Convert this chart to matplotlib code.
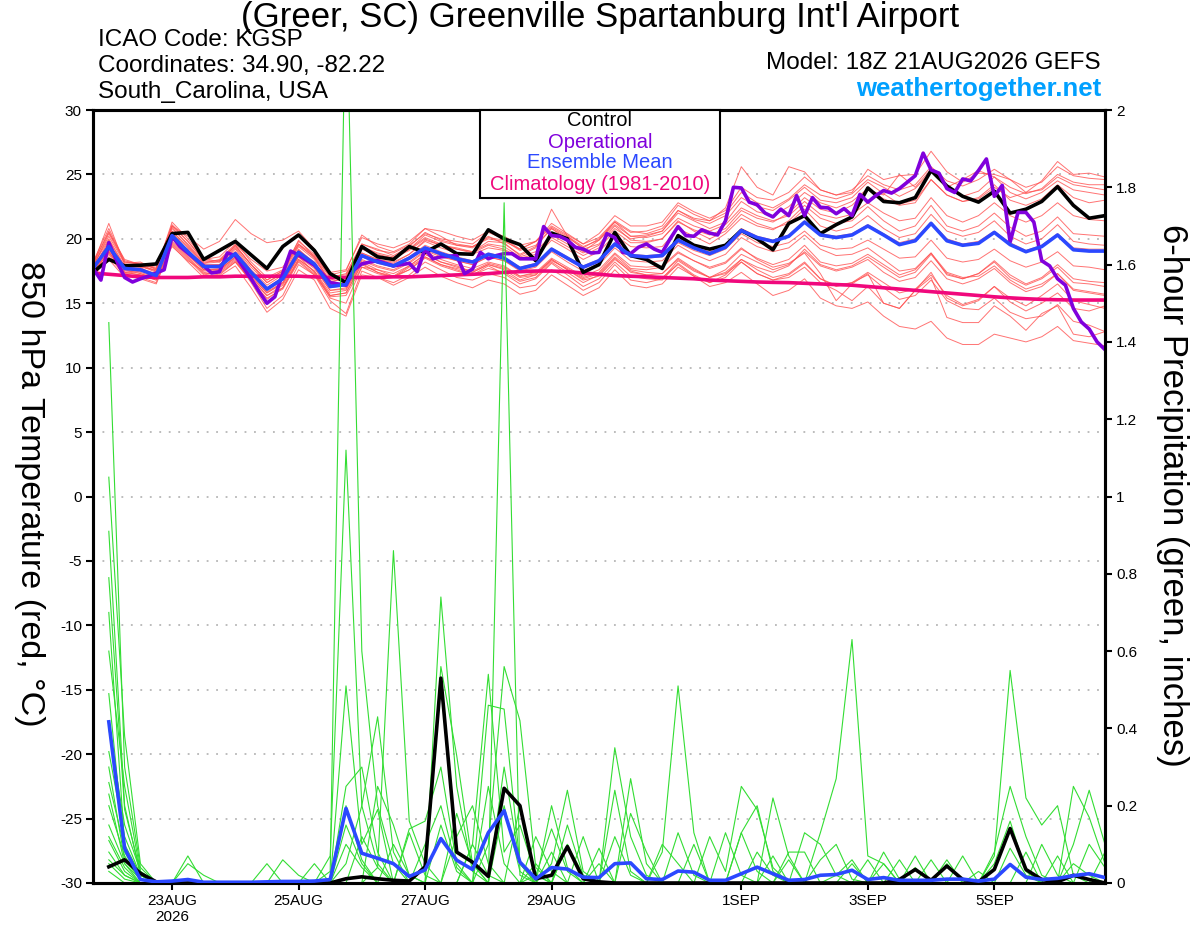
import matplotlib
matplotlib.use('Agg')
import matplotlib.pyplot as plt
from matplotlib.patches import Rectangle
import pandas as pd

plt.rcParams['font.family'] = ['Liberation Sans', 'DejaVu Sans']

# ---------------- data ----------------
run_time = pd.Timestamp('2026-08-21 18:00')
step_h = 6          # ensemble output interval (hours)
oper_step_h = 3     # operational output interval (hours)

tick_dates = ['2026-08-23', '2026-08-25', '2026-08-27', '2026-08-29',
              '2026-09-01', '2026-09-03', '2026-09-05']
tick_labels = ['23AUG\n2026', '25AUG', '27AUG', '29AUG', '1SEP', '3SEP', '5SEP']

control_temp = [17.4, 18.4, 17.9, 17.95, 18.05, 20.4, 20.5, 18.4, 19.1, 19.8,
                18.75, 17.7, 19.4, 20.3, 19.1, 17.3, 16.6, 19.4, 18.6, 18.4,
                19.4, 18.95, 19.6, 18.85, 18.8, 20.7, 20.0, 19.55, 18.3, 20.45,
                20.0, 17.4, 18.0, 20.5, 18.7, 18.4, 17.7, 20.25, 19.5, 19.2,
                19.5, 20.65, 20.0, 19.15, 21.2, 21.8, 20.4, 21.1, 21.7, 23.95,
                22.9, 22.8, 23.2, 25.3, 24.1, 23.3, 22.85, 23.7, 22.0, 22.3,
                22.9, 24.05, 22.6, 21.6, 21.8]

mean_temp = [17.7, 19.4, 17.7, 17.6, 17.15, 20.25, 19.0, 17.85, 17.85, 18.85,
             17.4, 16.1, 16.9, 18.95, 18.05, 16.3, 16.45, 18.7, 18.2, 17.9,
             18.5, 19.3, 18.85, 18.45, 18.2, 18.8, 18.5, 17.7, 18.0, 19.2,
             18.5, 17.8, 18.3, 19.6, 18.7, 18.6, 18.7, 19.9, 19.3, 18.85,
             19.35, 20.65, 20.1, 19.8, 20.2, 21.3, 20.3, 20.1, 20.3, 21.0,
             20.3, 19.55, 19.85, 21.2, 19.85, 19.5, 19.65, 20.5, 19.55, 19.0,
             19.4, 20.3, 19.15, 19.05, 19.05]

clim_temp = [17.35, 17.25, 17.15, 17.05, 17.0, 17.0, 17.0, 17.05, 17.05, 17.1,
             17.1, 17.1, 17.1, 17.1, 17.05, 17.0, 17.0, 17.0, 17.0, 17.05,
             17.05, 17.1, 17.15, 17.2, 17.25, 17.3, 17.4, 17.45, 17.5, 17.5,
             17.45, 17.35, 17.25, 17.15, 17.1, 17.05, 17.0, 16.95, 16.9, 16.8,
             16.75, 16.7, 16.65, 16.62, 16.6, 16.55, 16.5, 16.45, 16.4, 16.3,
             16.2, 16.1, 16.0, 15.9, 15.8, 15.7, 15.6, 15.5, 15.42, 15.35,
             15.3, 15.27, 15.25, 15.25, 15.25]

oper_temp = [17.7, 16.8, 19.7, 18.3, 17.0, 16.65, 16.9, 17.1, 17.35, 17.6,
             20.2, 19.4, 18.9, 18.4, 17.9, 17.35, 17.45, 18.9, 18.7, 17.8,
             16.9, 15.9, 15.0, 15.5, 17.3, 19.05, 18.75, 18.35, 17.95, 17.3,
             16.6, 16.5, 16.4, 17.6, 18.05, 18.2, 18.3, 18.1, 17.9, 18.0,
             18.1, 17.45, 19.2, 18.45, 18.6, 18.65, 18.7, 17.3, 17.65, 18.95,
             18.45, 18.7, 18.85, 18.85, 18.45, 18.45, 18.45, 20.95, 20.25, 20.2,
             19.9, 19.35, 19.2, 18.9, 18.95, 20.4, 20.1, 18.95, 18.85, 19.35,
             19.6, 19.2, 18.95, 20.0, 20.95, 20.25, 20.2, 20.7, 20.45, 20.3,
             21.4, 24.0, 23.95, 22.85, 22.65, 22.0, 21.7, 22.3, 21.8, 23.35,
             21.8, 23.2, 22.45, 22.4, 21.95, 22.35, 21.8, 23.45, 22.85, 23.35,
             23.75, 23.55, 23.9, 24.4, 24.9, 26.65, 25.35, 25.1, 23.9, 23.6,
             24.65, 24.5, 25.3, 26.2, 23.3, 24.15, 19.75, 22.05, 22.05, 21.3,
             18.3, 17.9, 16.9, 16.4, 14.6, 13.55, 13.0, 12.0, 11.4]

temp_members = [
    [18.2, 20.8, 18.3, 18.0, 17.8, 21.0, 19.8, 18.4, 18.6, 19.8, 18.2, 17.0, 17.6, 19.8, 18.8, 17.2, 17.5, 20.3, 19.4, 19.0, 19.6, 20.8, 20.2, 19.5, 19.3, 20.2, 19.6, 18.8, 19.4, 20.8, 19.9, 19.0, 19.9, 21.3, 20.2, 20.3, 20.6, 22.0, 21.4, 20.8, 21.3, 22.9, 22.1, 21.8, 22.5, 23.6, 22.8, 22.4, 22.9, 23.9, 23.1, 22.6, 22.8, 24.6, 23.4, 22.9, 23.2, 24.2, 23.0, 22.6, 23.1, 24.2, 23.2, 22.8, 23.0],
    [17.3, 19.0, 17.4, 17.2, 16.8, 19.8, 18.6, 17.4, 17.2, 18.2, 16.8, 15.3, 16.2, 18.4, 17.5, 15.6, 15.8, 18.0, 17.4, 17.0, 17.8, 18.6, 18.0, 17.6, 17.2, 17.9, 17.3, 16.5, 16.9, 18.1, 17.2, 16.3, 16.9, 18.2, 17.1, 16.9, 16.8, 18.1, 17.2, 16.6, 17.0, 18.2, 17.3, 16.8, 17.2, 18.1, 16.9, 16.4, 16.6, 17.2, 16.2, 15.3, 15.6, 16.8, 15.2, 14.6, 14.5, 15.4, 14.3, 13.8, 14.0, 14.9, 13.6, 13.3, 12.8],
    [17.5, 19.6, 17.9, 17.8, 17.0, 20.0, 19.2, 17.6, 17.6, 18.6, 17.0, 15.8, 16.5, 18.6, 17.4, 15.4, 15.0, 17.8, 17.6, 17.1, 17.9, 18.8, 18.2, 17.9, 17.4, 18.0, 17.6, 16.8, 17.2, 18.4, 17.6, 16.8, 17.1, 18.4, 17.5, 17.2, 17.0, 18.0, 17.1, 16.3, 16.6, 17.4, 16.5, 15.6, 16.0, 16.9, 15.4, 14.8, 14.6, 15.1, 14.0, 13.2, 13.0, 13.6, 12.3, 11.8, 11.8, 12.6, 12.3, 12.0, 12.4, 13.2, 12.1, 11.9, 11.7],
    [17.9, 20.2, 18.1, 18.2, 17.6, 20.8, 19.6, 18.2, 18.3, 19.4, 18.0, 16.8, 17.5, 19.5, 18.6, 17.0, 17.3, 19.6, 19.1, 18.9, 19.5, 20.4, 20.0, 19.8, 19.6, 20.5, 20.0, 19.2, 19.8, 21.2, 20.4, 19.6, 20.4, 21.8, 21.0, 21.0, 21.3, 22.8, 22.1, 21.6, 22.2, 24.0, 23.2, 23.0, 23.6, 24.8, 23.8, 23.4, 23.8, 24.9, 24.2, 23.8, 24.2, 25.6, 24.5, 24.1, 24.6, 25.4, 24.6, 24.0, 24.4, 25.6, 24.9, 24.7, 24.6],
    [18.0, 21.2, 18.0, 17.8, 17.6, 21.3, 20.0, 18.5, 18.2, 19.5, 18.0, 16.6, 17.4, 19.9, 18.6, 16.6, 17.0, 19.4, 18.8, 18.5, 19.2, 20.1, 19.6, 19.2, 19.0, 19.6, 19.4, 18.6, 19.0, 20.3, 19.6, 18.9, 19.5, 20.8, 20.0, 20.2, 20.6, 22.2, 21.6, 21.4, 22.4, 25.6, 24.0, 23.4, 25.6, 25.2, 23.8, 23.4, 23.6, 25.4, 24.6, 24.9, 25.0, 26.8, 25.2, 24.4, 25.1, 25.0, 24.6, 23.6, 24.5, 26.0, 25.0, 25.1, 24.8],
    [17.0, 18.8, 17.1, 17.0, 16.6, 19.6, 18.4, 17.2, 17.4, 18.3, 16.9, 15.6, 16.2, 18.3, 17.3, 15.6, 15.8, 18.1, 17.4, 17.1, 17.6, 18.6, 18.0, 17.7, 17.4, 18.0, 17.7, 17.0, 17.2, 18.3, 17.7, 17.0, 17.4, 18.8, 17.7, 17.6, 17.8, 18.9, 18.3, 17.7, 18.1, 19.2, 18.5, 18.0, 18.4, 19.5, 18.2, 17.9, 18.1, 18.8, 18.0, 17.2, 17.6, 18.9, 17.2, 16.9, 17.3, 18.2, 17.0, 16.4, 16.9, 17.8, 16.6, 16.5, 16.3],
    [17.6, 19.9, 17.8, 17.9, 17.4, 20.6, 19.3, 18.0, 18.0, 19.2, 17.6, 16.4, 17.2, 19.2, 18.1, 16.4, 16.6, 18.9, 18.4, 18.2, 18.8, 19.8, 19.3, 18.9, 18.8, 19.3, 19.1, 18.4, 18.6, 19.9, 19.2, 18.4, 19.0, 20.3, 19.4, 19.3, 19.4, 20.8, 20.2, 19.6, 20.4, 21.6, 21.0, 20.7, 21.4, 22.6, 21.6, 21.2, 21.4, 22.5, 21.4, 20.6, 21.0, 22.6, 21.0, 20.6, 21.0, 22.0, 20.9, 20.2, 20.6, 21.7, 20.4, 20.3, 20.2],
    [17.2, 18.4, 17.0, 17.3, 16.9, 19.4, 18.3, 17.5, 17.5, 18.4, 16.6, 14.6, 15.6, 18.0, 17.2, 15.2, 14.2, 17.5, 17.0, 16.6, 17.2, 18.2, 17.6, 17.0, 16.8, 17.3, 17.0, 16.2, 16.4, 17.6, 16.9, 16.0, 16.6, 18.0, 16.8, 16.6, 16.9, 18.3, 17.5, 17.0, 17.6, 18.8, 18.2, 17.6, 18.0, 19.0, 17.9, 17.5, 17.8, 18.4, 17.4, 16.7, 17.0, 18.3, 16.9, 16.5, 16.9, 17.7, 16.6, 15.9, 16.3, 17.3, 16.0, 15.8, 15.6],
    [17.4, 19.2, 17.5, 17.4, 17.0, 20.1, 19.0, 17.8, 17.7, 18.8, 17.2, 15.9, 16.6, 18.7, 17.8, 16.0, 16.1, 18.3, 17.8, 17.5, 18.1, 19.0, 18.4, 18.0, 17.7, 18.2, 17.9, 17.1, 17.3, 18.4, 17.6, 16.9, 17.3, 18.6, 17.6, 17.4, 17.3, 18.4, 17.6, 17.0, 17.3, 18.2, 17.3, 16.8, 17.0, 17.8, 16.6, 16.0, 15.2, 16.3, 15.0, 14.6, 16.0, 17.0, 13.9, 13.5, 13.5, 14.8, 14.0, 12.9, 14.2, 14.8, 12.6, 12.4, 12.8],
    [18.1, 20.5, 18.4, 18.0, 17.5, 20.9, 19.5, 18.1, 18.4, 19.6, 18.4, 17.5, 17.8, 19.6, 18.7, 17.1, 17.2, 19.6, 19.2, 18.7, 19.4, 20.5, 19.9, 19.6, 19.4, 20.0, 19.8, 19.2, 19.8, 21.0, 20.3, 19.6, 20.1, 21.4, 20.6, 20.4, 20.8, 22.2, 21.5, 21.2, 21.8, 23.2, 22.5, 22.2, 23.0, 24.0, 23.0, 22.8, 23.2, 24.4, 23.5, 22.7, 23.0, 24.6, 23.4, 22.9, 23.1, 24.0, 23.2, 23.6, 23.8, 24.8, 24.2, 24.0, 23.8],
    [17.8, 20.4, 18.2, 18.0, 17.7, 21.0, 20.2, 19.2, 19.8, 21.5, 20.4, 19.7, 19.9, 20.6, 19.2, 17.4, 17.6, 20.1, 19.6, 19.3, 19.8, 20.8, 20.6, 20.2, 19.9, 20.6, 20.2, 19.5, 19.8, 20.9, 20.2, 19.4, 19.9, 21.1, 20.2, 20.1, 20.4, 21.6, 21.0, 20.6, 21.1, 22.4, 21.8, 21.4, 21.8, 22.9, 21.9, 21.6, 21.9, 22.8, 22.0, 21.4, 21.6, 23.2, 21.8, 21.3, 21.8, 22.8, 21.8, 21.3, 21.8, 22.8, 21.8, 21.5, 21.4],
    [17.1, 18.6, 17.2, 16.9, 16.5, 19.5, 18.2, 17.0, 17.1, 17.9, 16.2, 14.3, 15.3, 17.6, 16.8, 14.6, 14.0, 17.2, 17.0, 16.4, 17.0, 17.8, 17.1, 16.6, 16.2, 16.8, 16.5, 15.7, 16.0, 17.2, 16.4, 15.6, 16.2, 17.6, 16.4, 16.2, 16.5, 17.8, 17.1, 16.6, 17.2, 18.4, 17.8, 17.4, 17.9, 19.2, 18.0, 17.6, 17.9, 18.6, 17.8, 17.0, 17.4, 18.8, 17.3, 16.9, 17.3, 18.3, 17.2, 16.5, 17.0, 18.0, 16.9, 16.7, 16.6],
    [17.7, 19.7, 17.6, 17.5, 17.3, 20.5, 19.1, 17.9, 17.8, 19.0, 17.5, 16.2, 17.0, 19.1, 18.2, 16.4, 16.6, 18.9, 18.4, 18.1, 18.8, 19.9, 19.5, 19.3, 19.0, 19.8, 19.7, 18.7, 19.3, 22.3, 20.2, 19.2, 19.6, 21.0, 19.9, 19.8, 20.0, 21.4, 20.6, 20.0, 20.6, 21.9, 21.2, 20.8, 21.2, 22.3, 21.0, 20.6, 20.9, 21.8, 20.8, 20.1, 20.4, 21.9, 20.6, 20.2, 20.5, 21.4, 20.2, 19.6, 20.0, 21.1, 19.8, 19.6, 19.5],
    [17.5, 19.1, 17.6, 17.3, 16.9, 20.0, 18.8, 17.6, 17.6, 18.6, 17.1, 15.8, 16.6, 18.6, 17.7, 16.0, 16.2, 18.4, 17.9, 17.6, 18.2, 19.1, 18.6, 18.3, 18.0, 18.6, 18.3, 17.5, 17.8, 19.0, 18.2, 17.5, 18.0, 19.3, 18.3, 18.2, 18.3, 19.5, 18.8, 18.3, 18.8, 20.1, 19.4, 19.0, 19.3, 20.3, 19.2, 18.7, 18.8, 19.3, 18.4, 17.5, 17.7, 18.9, 17.4, 17.0, 17.1, 17.9, 16.8, 16.1, 16.5, 17.3, 16.1, 15.9, 15.7],
    [17.8, 19.5, 17.8, 17.7, 17.3, 20.4, 19.1, 17.9, 18.0, 19.0, 17.5, 16.2, 17.0, 19.1, 18.1, 16.4, 16.6, 18.8, 18.3, 18.0, 18.6, 19.5, 19.0, 18.6, 18.3, 18.9, 18.6, 17.8, 18.1, 19.3, 18.6, 17.9, 18.4, 19.7, 18.8, 18.7, 18.8, 20.0, 19.4, 19.0, 19.5, 20.8, 20.2, 19.9, 20.3, 21.4, 20.4, 20.2, 20.4, 21.1, 20.4, 19.7, 20.0, 21.3, 20.0, 19.6, 19.8, 20.6, 19.7, 19.1, 19.5, 20.4, 19.3, 19.2, 19.2],
    [17.3, 19.0, 17.3, 17.5, 17.1, 20.0, 18.7, 17.6, 17.6, 18.5, 16.9, 15.6, 16.4, 18.4, 17.5, 15.8, 16.0, 18.2, 17.6, 17.3, 17.9, 18.8, 18.2, 17.8, 17.5, 18.1, 17.8, 17.1, 17.4, 18.5, 17.8, 17.1, 17.6, 18.9, 17.9, 17.8, 17.9, 19.0, 18.3, 17.8, 18.2, 19.3, 18.4, 17.8, 18.1, 18.9, 17.3, 15.2, 16.5, 17.3, 15.0, 14.6, 16.0, 17.4, 15.4, 14.8, 15.2, 16.3, 15.4, 14.8, 15.6, 16.5, 15.2, 14.9, 14.6],
    [17.9, 20.0, 17.9, 17.9, 17.5, 20.6, 19.4, 18.1, 18.2, 19.3, 17.8, 16.6, 17.3, 19.4, 18.4, 16.7, 16.9, 19.2, 18.7, 18.5, 19.1, 20.0, 19.5, 19.2, 18.9, 19.5, 19.2, 18.5, 18.8, 20.1, 19.4, 18.7, 19.3, 20.6, 19.7, 19.7, 20.0, 21.3, 20.7, 20.3, 20.8, 22.2, 21.6, 21.3, 22.0, 23.2, 22.3, 22.0, 22.6, 23.8, 23.4, 25.0, 24.0, 25.4, 23.9, 23.3, 23.7, 24.8, 23.6, 23.1, 23.6, 24.5, 23.8, 23.6, 23.4],
    [17.6, 19.3, 17.7, 17.6, 17.2, 20.2, 19.0, 17.8, 17.8, 18.8, 17.3, 16.0, 16.8, 18.9, 18.0, 16.2, 16.4, 18.6, 18.1, 17.8, 18.4, 19.2, 18.7, 18.3, 18.0, 18.6, 18.3, 17.6, 17.9, 19.1, 18.4, 17.7, 18.2, 19.5, 18.6, 18.5, 18.6, 19.7, 19.1, 18.7, 19.2, 20.4, 19.7, 19.4, 19.7, 20.6, 19.5, 19.2, 19.3, 19.9, 19.2, 18.5, 18.6, 19.9, 18.5, 18.2, 18.4, 19.2, 18.3, 17.8, 18.2, 19.0, 17.9, 17.8, 17.6],
    [18.0, 20.6, 18.2, 18.1, 17.7, 21.1, 19.8, 18.3, 18.3, 19.5, 18.0, 16.8, 17.5, 19.6, 18.5, 16.8, 17.1, 19.4, 18.9, 18.6, 19.2, 20.3, 19.8, 19.5, 19.4, 20.1, 19.9, 19.1, 19.5, 20.8, 20.1, 19.3, 20.0, 21.3, 20.5, 20.6, 21.0, 22.6, 21.9, 21.4, 22.0, 23.6, 22.8, 22.4, 23.1, 24.2, 23.4, 23.1, 23.5, 24.6, 24.0, 23.3, 23.9, 25.2, 24.0, 24.6, 25.3, 24.8, 24.0, 23.5, 23.9, 25.0, 24.4, 24.2, 24.2],
    [17.4, 18.9, 17.4, 17.2, 16.8, 19.7, 18.5, 17.3, 17.3, 18.2, 16.7, 15.4, 16.1, 18.2, 17.2, 15.5, 15.6, 17.8, 17.3, 17.0, 17.6, 18.5, 17.9, 17.5, 17.2, 17.7, 17.4, 16.7, 17.0, 18.2, 17.4, 16.6, 17.2, 18.5, 17.4, 17.2, 17.3, 18.5, 17.7, 17.0, 17.4, 18.4, 17.6, 17.0, 17.3, 18.2, 16.9, 16.3, 16.6, 17.4, 16.6, 15.8, 16.1, 17.2, 15.6, 14.9, 15.3, 16.3, 15.1, 14.4, 15.0, 15.8, 14.6, 14.4, 14.8],
]

control_precip = [0.042, 0.06, 0.025, 0.003, 0, 0, 0, 0, 0, 0,
                  0, 0, 0, 0, 0, 0.011, 0.016, 0.011, 0.007, 0.005,
                  0.042, 0.53, 0.08, 0.054, 0.017, 0.245, 0.2, 0.011, 0.02, 0.094,
                  0.011, 0.003, 0, 0, 0, 0, 0, 0, 0, 0,
                  0, 0, 0, 0, 0, 0, 0, 0, 0, 0,
                  0.009, 0.035, 0.007, 0.044, 0.009, 0.003, 0.035, 0.141, 0.035, 0.009,
                  0.003, 0.02, 0.009, 0]

mean_precip = [0.417, 0.09, 0.009, 0.003, 0.005, 0.009, 0.002, 0.002, 0.002, 0.002,
               0.003, 0.004, 0.004, 0.005, 0.009, 0.193, 0.077, 0.064, 0.05, 0.017,
               0.034, 0.115, 0.059, 0.035, 0.13, 0.187, 0.054, 0.011, 0.04, 0.036,
               0.015, 0.014, 0.05, 0.052, 0.011, 0.009, 0.031, 0.028, 0.007, 0.007,
               0.024, 0.041, 0.024, 0.007, 0.009, 0.02, 0.022, 0.033, 0.009, 0.014,
               0.007, 0.007, 0.007, 0.01, 0.01, 0.005, 0.01, 0.048, 0.015, 0.009,
               0.012, 0.019, 0.024, 0.014]

precip_members = [
    [1.45,0.30,0.04,0,0,0,0,0, 0,0,0,0,0,0,0.03,2.35, 0.60,0.20,0.05,0,0,0,0,0, 0,0,0,0.05,0,0,0,0, 0,0,0,0,0,0.10,0,0, 0,0,0,0,0,0.13,0.27,0.63, 0.07,0.05,0,0,0,0,0,0, 0.07,0.55,0.22,0.15,0.20,0.02,0,0],
    [1.05,0.38,0.05,0,0,0,0,0, 0,0,0,0,0,0,0.07,1.12, 0.20,0.05,0,0,0,0,0,0.10, 0.02,0,0,0,0,0,0.12,0, 0,0,0,0,0,0,0,0, 0,0,0.07,0,0,0,0,0, 0,0,0,0,0,0,0,0.03, 0,0,0,0,0,0,0.10,0.04],
    [0.91,0.20,0.02,0,0,0.07,0,0, 0,0,0,0,0,0,0,0.51, 0.10,0.19,0,0,0,0,0,0, 0.25,0.05,0,0,0.20,0.04,0,0, 0,0,0,0,0,0,0,0.13, 0.02,0,0,0,0,0,0,0, 0,0,0,0,0,0.06,0,0, 0,0,0,0,0,0,0,0],
    [0.79,0.19,0.03,0,0,0,0,0, 0,0,0,0,0,0,0,0.25, 0.30,0.08,0,0,0,0,0.18,0.05, 0,0,0,0,0,0.15,0.02,0, 0,0,0,0,0,0,0,0, 0.13,0.03,0,0,0,0,0,0.05, 0,0,0,0,0,0,0,0, 0.08,0.25,0.12,0.02,0,0,0,0],
    [0.70,0.10,0.02,0,0,0,0,0, 0,0,0.05,0,0,0,0,0.15, 0.05,0,0.10,0.02,0,0,0,0, 0,0.20,0.03,0,0,0,0,0.09, 0,0,0,0,0,0,0,0, 0,0,0,0,0,0,0,0, 0.06,0,0,0,0,0,0,0, 0,0,0,0,0,0.10,0.24,0.10],
    [0.49,0.08,0.01,0,0,0,0,0, 0,0,0,0,0,0,0,0.10, 0.04,0,0,0.13,0.02,0,0,0, 0,0.30,0.05,0,0,0,0,0, 0.35,0.12,0.02,0,0,0,0,0, 0,0,0,0,0,0,0,0, 0,0.08,0.01,0,0,0,0,0, 0,0.09,0.02,0,0,0,0,0],
    [0.34,0.12,0.02,0,0,0.05,0.02,0, 0,0,0,0,0,0,0,0.20, 0.06,0,0,0,0,0,0,0, 0,0,0,0.12,0.03,0,0,0, 0,0.27,0.05,0,0,0,0,0, 0,0,0,0,0,0,0,0, 0,0,0,0.04,0,0,0,0, 0,0,0,0,0,0,0,0],
    [0.30,0.06,0.01,0,0,0,0,0, 0,0,0,0,0,0,0,0.05, 0.20,0.43,0.08,0,0,0,0,0, 0,0,0,0.02,0.14,0.03,0,0, 0,0,0,0,0,0,0,0, 0,0.08,0.02,0,0,0,0,0, 0,0,0,0,0,0,0,0, 0,0,0,0,0,0,0,0],
    [0.23,0.05,0,0,0,0,0,0, 0,0,0,0.06,0.02,0,0,0, 0.12,0.04,0,0,0,0.15,0.03,0, 0,0,0,0,0,0.10,0.02,0, 0,0,0,0,0,0,0,0, 0,0,0,0.06,0,0,0,0, 0,0,0,0,0.06,0,0,0, 0,0,0,0,0,0,0,0],
    [0.11,0.03,0,0,0,0,0,0, 0,0,0,0,0,0,0,0, 0,0.25,0.15,0.02,0,0,0,0, 0,0,0.20,0.02,0,0,0,0, 0,0,0,0.08,0.51,0.13,0,0, 0,0,0,0,0,0,0,0, 0,0,0,0,0,0,0,0, 0.05,0.16,0.03,0,0,0,0,0],
    [0.06,0.02,0,0,0,0,0,0, 0,0,0,0,0,0.05,0,0, 0,0.04,0.86,0.16,0.05,0,0,0, 0,0,0,0,0,0,0,0, 0.24,0.03,0,0,0,0,0,0, 0,0,0,0,0,0,0,0, 0,0,0.06,0,0,0,0,0, 0,0,0.08,0,0,0,0,0],
    [0.03,0,0,0,0,0,0,0, 0,0,0,0,0,0,0,0, 0,0,0,0.14,0.16,0.30,0.05,0, 0,0,0,0,0,0,0,0.05, 0,0,0,0,0,0,0,0, 0,0,0,0.08,0.08,0,0,0, 0,0,0,0,0,0,0,0, 0,0,0,0.10,0.02,0,0,0],
    [0.15,0.05,0.01,0,0,0,0,0, 0,0,0,0,0,0,0,0, 0,0,0,0,0.10,0.20,0.04,0, 0,0,0,0,0.08,0,0,0, 0,0,0,0,0.13,0.02,0,0, 0,0,0,0,0,0,0,0, 0,0,0,0.07,0,0,0,0, 0,0,0,0,0.07,0,0,0],
    [0.20,0.07,0.01,0,0,0,0,0, 0,0,0,0,0,0,0,0, 0,0,0,0,0,0.74,0.25,0.03, 0,0,0,0,0.05,0.24,0.03,0, 0,0,0,0,0,0,0,0, 0,0,0,0,0,0.06,0.10,0.01, 0,0,0,0,0,0,0,0, 0,0,0,0,0,0.25,0.17,0.05],
    [0.26,0.09,0.02,0,0,0,0,0, 0,0,0,0,0,0,0,0, 0,0,0,0,0,0.56,0.33,0.05, 0,0,0,0,0,0,0,0, 0,0,0,0,0,0,0.12,0.03, 0.25,0.19,0.04,0,0,0,0,0, 0,0,0,0,0,0,0.07,0, 0,0,0,0,0,0,0,0.08],
    [0.08,0.02,0,0,0,0,0,0, 0,0,0,0,0,0,0,0, 0,0,0,0,0,0,0.12,0.20, 0.05,0,0,0,0,0.10,0.01,0, 0,0,0,0,0,0,0,0, 0,0,0.22,0.07,0,0,0,0, 0,0,0,0,0,0.05,0,0, 0,0,0,0,0,0,0,0],
    [0.40,0.15,0.03,0,0,0,0,0, 0,0,0,0,0,0,0,0, 0,0,0,0,0,0,0,0.10, 0.54,0.08,0.15,0.02,0,0,0,0, 0.12,0.02,0,0,0,0,0,0, 0,0,0,0,0.13,0.10,0.02,0, 0,0,0,0,0,0,0,0, 0,0,0,0,0,0,0,0],
    [0.60,0.25,0.03,0,0,0,0,0, 0,0,0,0,0,0,0,0, 0,0,0,0,0,0,0,0, 0.46,0.45,0.05,0,0,0,0,0, 0,0.18,0.08,0,0,0,0,0, 0,0,0,0,0,0,0.02,0.06, 0,0,0,0,0,0,0,0, 0,0,0,0,0,0,0,0],
    [0.12,0.04,0,0,0,0,0,0, 0,0,0,0,0,0,0,0, 0,0,0,0,0,0,0,0, 0,1.76,0.02,0,0,0,0,0, 0,0,0,0,0,0,0,0, 0.13,0.20,0.03,0,0,0,0,0, 0,0,0,0,0,0,0,0, 0,0,0,0,0,0.05,0.02,0],
    [0.05,0.01,0,0,0,0,0,0, 0,0,0,0,0,0,0,0, 0,0,0,0,0,0,0,0, 0.10,0.56,0.42,0.04,0,0,0,0, 0,0,0,0.10,0.05,0,0,0, 0,0,0,0,0,0,0,0, 0,0.05,0,0,0,0,0,0, 0,0,0,0,0,0,0,0],
]

# ---------------- figure ----------------
W, H = 1200, 927
fig = plt.figure(figsize=(W / 100, H / 100), dpi=100)
L, R, T, B = 93, 1105, 110, 883
ax = fig.add_axes([L / W, 1 - B / H, (R - L) / W, (B - T) / H])
ax2 = ax.twinx()

hours_t = [i * step_h for i in range(len(mean_temp))]
hours_o = [i * oper_step_h for i in range(len(oper_temp))]
hours_p = [(i + 1) * step_h for i in range(len(mean_precip))]

c_red = '#ff5050'
c_green = '#33dd33'
c_purple = '#8000dc'
c_blue = '#2b48ff'
c_clim = '#f0087c'

# temperature (left axis)
for m in temp_members:
    ax.plot(hours_t, m, color=c_red, lw=0.7, alpha=0.8, zorder=2)
ax.plot(hours_t, clim_temp, color=c_clim, lw=2.6, zorder=3)
ax.plot(hours_t, control_temp, color='black', lw=2.6, zorder=4)
ax.plot(hours_o, oper_temp, color=c_purple, lw=2.6, zorder=5)
ax.plot(hours_t, mean_temp, color=c_blue, lw=2.6, zorder=6)

for g in range(-25, 30, 5):
    ax.axhline(g, color='#aaaaaa', lw=1.1, ls=(0, (1.2, 5)), zorder=1)

ax.set_ylim(-30, 30)
ax.set_xlim(0, 384)
ax.set_yticks(range(-30, 31, 5))
ax.set_yticklabels([str(v) for v in range(-30, 31, 5)])

tick_hours = [(pd.Timestamp(d) - run_time) / pd.Timedelta(hours=1) for d in tick_dates]
ax.set_xticks(tick_hours)
ax.set_xticklabels(tick_labels, linespacing=1.15)

# precipitation (right axis)
for m in precip_members:
    ax2.plot(hours_p, m, color=c_green, lw=0.8, zorder=2)
ax2.plot(hours_p, control_precip, color='black', lw=2.6, zorder=3)
ax2.plot(hours_p, mean_precip, color=c_blue, lw=2.6, zorder=4)
ax2.set_ylim(0, 2)
ax2.set_xlim(0, 384)
pt = [round(0.2 * k, 1) for k in range(11)]
ax2.set_yticks(pt)
ax2.set_yticklabels(['0' if v == 0 else ('%g' % v) for v in pt])

for a in (ax, ax2):
    for s in a.spines.values():
        s.set_linewidth(2.2)
    a.tick_params(direction='out', length=5, width=1.5, labelsize=11, pad=3)

# axis titles (both read top-to-bottom)
fig.text(29 / W, 1 - 494 / H, '850 hPa Temperature (red, °C)', rotation=270,
         ha='center', va='center', fontsize=24.5)
fig.text(1172 / W, 1 - 495 / H, '6-hour Precipitation (green, inches)',
         rotation=270, ha='center', va='center', fontsize=25)

# header text
fig.text(0.5, 1 - 18 / H, "(Greer, SC) Greenville Spartanburg Int'l Airport",
         ha='center', va='center', fontsize=25)
for y, s in [(40, 'ICAO Code: KGSP'), (66, 'Coordinates: 34.90, -82.22'),
             (92, 'South_Carolina, USA')]:
    fig.text(98 / W, 1 - y / H, s, ha='left', va='center', fontsize=17.5)
fig.text(1101 / W, 1 - 63 / H, 'Model: 18Z 21AUG2026 GEFS', ha='right',
         va='center', fontsize=17.5)
fig.text(1101 / W, 1 - 89 / H, 'weathertogether.net', ha='right', va='center',
         fontsize=18.5, fontweight='bold', color='#00a0ff')

# legend box
fig.patches.append(Rectangle((480 / W, 1 - 198 / H), 240 / W, 88 / H,
                             transform=fig.transFigure, facecolor='white',
                             edgecolor='black', lw=1.5, zorder=5))
for y, s, c in [(121, 'Control', 'black'), (142, 'Operational', c_purple),
                (163, 'Ensemble Mean', c_blue),
                (185, 'Climatology (1981-2010)', c_clim)]:
    fig.text(600 / W, 1 - y / H, s, ha='center', va='center', fontsize=14.5,
             color=c, zorder=6)

fig.savefig('out.png', dpi=100)
